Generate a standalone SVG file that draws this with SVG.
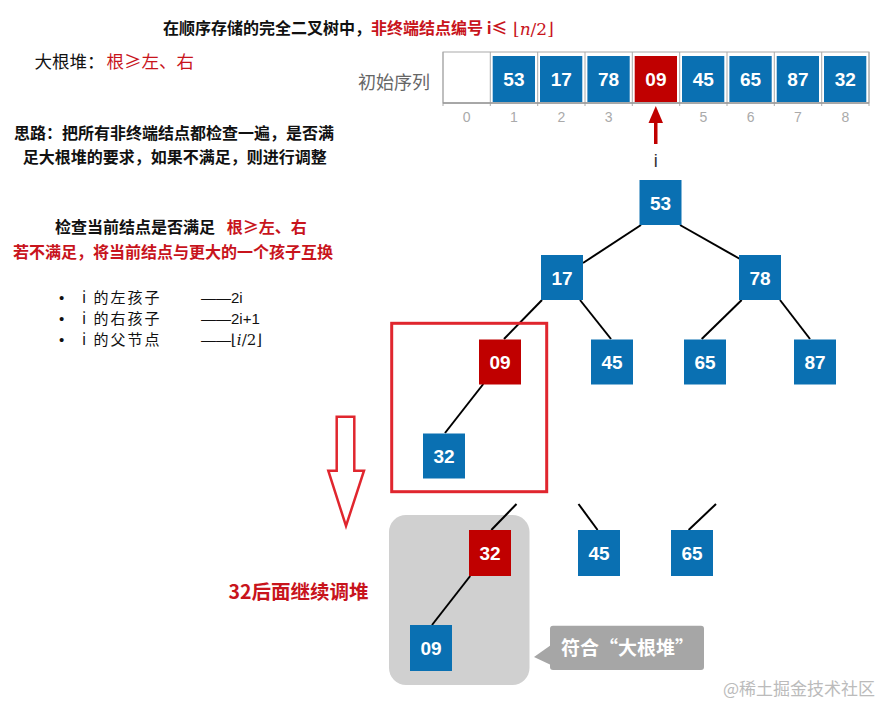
<svg xmlns="http://www.w3.org/2000/svg" width="889" height="705" viewBox="0 0 889 705">
<style>
.cjk{font-family:"Noto Sans CJK SC","Noto Sans",sans-serif}
.b{font-weight:bold}
.red{fill:#c8141c}
.blk{fill:#111}
.nb{fill:#0a70b2}
.nr{fill:#c00000}
.nt{font-family:"Liberation Sans",Arial,sans-serif;font-weight:bold;font-size:19px;fill:#fff;text-anchor:middle}
.idx{font-family:"Liberation Sans",Arial,sans-serif;font-size:14px;fill:#aaa;text-anchor:middle}
.edge{stroke:#000;stroke-width:2;fill:none}
.cell{fill:#fff;stroke:#aaa;stroke-width:1}
.bul{font-family:"Liberation Sans",Arial,sans-serif;font-size:15px;fill:#111}
.bt{font-family:"Noto Sans CJK SC",sans-serif;font-size:15px;letter-spacing:2px;fill:#111}
.bd{font-family:"Liberation Sans",Arial,sans-serif;font-size:15px;fill:#111}
</style>
<rect width="889" height="705" fill="#fff"/>

<!-- Title -->
<text x="163" y="34" class="cjk b" font-size="16"><tspan class="blk">在顺序存储的完全二叉树中，</tspan><tspan class="red">非终端结点编号 i≤</tspan></text>
<text x="513" y="35" font-family="DejaVu Serif,serif" font-size="17" class="red">⌊<tspan font-style="italic">n</tspan>/2⌋</text>

<text x="34.5" y="68" class="cjk" font-size="17.5" fill="#111">大根堆：<tspan class="red" x="106.5">根≥左、右</tspan></text>

<!-- Left explanation -->
<text x="14" y="139" class="cjk b blk" font-size="16">思路：把所有非终端结点都检查一遍，是否满</text>
<text x="22.7" y="163" class="cjk b blk" font-size="16">足大根堆的要求，如果不满足，则进行调整</text>
<text x="55" y="233" class="cjk b" font-size="16"><tspan class="blk">检查当前结点是否满足 </tspan><tspan class="red" x="226.7">根≥左、右</tspan></text>
<text x="13" y="258" class="cjk b red" font-size="16">若不满足，将当前结点与更大的一个孩子互换</text>

<g id="bullets">
<text x="59" y="303" class="bul">•</text><text x="82" y="303" class="bt">i 的左孩子</text><text x="201" y="303" class="bd">——2i</text>
<text x="59" y="324" class="bul">•</text><text x="82" y="324" class="bt">i 的右孩子</text><text x="201" y="324" class="bd">——2i+1</text>
<text x="59" y="345" class="bul">•</text><text x="82" y="345" class="bt">i 的父节点</text><text x="201" y="345" class="bd">——<tspan font-family="DejaVu Serif,serif">⌊<tspan font-style="italic">i</tspan>/2⌋</tspan></text>
</g>

<!-- Array -->
<g id="array">
<text x="358" y="89" class="cjk" font-size="18" fill="#666">初始序列</text>
<rect x="443" y="52" width="426" height="51" class="cell"/>
<g stroke="#aaa" stroke-width="1">
<line x1="490.3" y1="52" x2="490.3" y2="106"/>
<line x1="537.7" y1="52" x2="537.7" y2="106"/>
<line x1="585" y1="52" x2="585" y2="106"/>
<line x1="632.3" y1="52" x2="632.3" y2="106"/>
<line x1="679.7" y1="52" x2="679.7" y2="106"/>
<line x1="727" y1="52" x2="727" y2="106"/>
<line x1="774.3" y1="52" x2="774.3" y2="106"/>
<line x1="821.7" y1="52" x2="821.7" y2="106"/>
<line x1="443" y1="52" x2="443" y2="106"/>
<line x1="869" y1="52" x2="869" y2="106"/>
</g>
<line x1="443" y1="103" x2="869" y2="103" stroke="#999" stroke-width="1.5"/>
<g>
<rect x="492.7" y="56" width="42.3" height="46" class="nb"/><text x="513.9" y="86" class="nt">53</text>
<rect x="540" y="56" width="42.3" height="46" class="nb"/><text x="561.2" y="86" class="nt">17</text>
<rect x="587.4" y="56" width="42.3" height="46" class="nb"/><text x="608.5" y="86" class="nt">78</text>
<rect x="634.7" y="56" width="42.3" height="46" class="nr"/><text x="655.9" y="86" class="nt">09</text>
<rect x="682" y="56" width="42.3" height="46" class="nb"/><text x="703.2" y="86" class="nt">45</text>
<rect x="729.4" y="56" width="42.3" height="46" class="nb"/><text x="750.5" y="86" class="nt">65</text>
<rect x="776.7" y="56" width="42.3" height="46" class="nb"/><text x="797.9" y="86" class="nt">87</text>
<rect x="824" y="56" width="42.3" height="46" class="nb"/><text x="845.2" y="86" class="nt">32</text>
</g>
<text x="466.7" y="122" class="idx">0</text>
<text x="514" y="122" class="idx">1</text>
<text x="561.3" y="122" class="idx">2</text>
<text x="608.7" y="122" class="idx">3</text>
<text x="703.3" y="122" class="idx">5</text>
<text x="750.7" y="122" class="idx">6</text>
<text x="798" y="122" class="idx">7</text>
<text x="845.3" y="122" class="idx">8</text>
</g>

<!-- pointer i -->
<g id="pointer">
<rect x="654" y="120" width="3.5" height="24" fill="#c00000"/>
<polygon points="655.8,106 648.5,123 663,123" fill="#c00000"/>
<text x="655.8" y="167" font-family="Liberation Sans,Arial,sans-serif" font-size="18" fill="#333" text-anchor="middle">i</text>
</g>

<!-- gray group background -->
<rect x="389" y="515" width="140.5" height="170" rx="17" fill="#d0d0d0"/>

<!-- connectors -->
<g id="connectors">
<line x1="641" y1="225" x2="583" y2="263" class="edge"/>
<line x1="680" y1="225" x2="740" y2="259" class="edge"/>
<line x1="542" y1="300" x2="504" y2="339" class="edge"/>
<line x1="580" y1="300" x2="611" y2="339" class="edge"/>
<line x1="741.7" y1="300" x2="701.7" y2="339" class="edge"/>
<line x1="780" y1="300" x2="810" y2="339" class="edge"/>
<line x1="483.3" y1="384" x2="445" y2="433" class="edge"/>
<line x1="516.5" y1="504" x2="491.3" y2="530" class="edge"/>
<line x1="578.5" y1="504" x2="597.6" y2="530" class="edge"/>
<line x1="716" y1="504" x2="688.6" y2="530" class="edge"/>
<line x1="470.2" y1="576" x2="432" y2="625" class="edge"/>
</g>

<!-- red highlight box -->
<rect x="391.7" y="323.3" width="155" height="168.4" fill="none" stroke="#e0262e" stroke-width="3"/>

<!-- tree nodes -->
<g id="n53"><rect x="639.5" y="180" width="42" height="45" class="nb"/><text x="660.5" y="209.5" class="nt">53</text></g>
<g id="n17"><rect x="541" y="255" width="42" height="45" class="nb"/><text x="562" y="284.5" class="nt">17</text></g>
<g id="n78"><rect x="739" y="255" width="42" height="45" class="nb"/><text x="760" y="284.5" class="nt">78</text></g>
<g id="n09"><rect x="479" y="339.5" width="42" height="45" class="nr"/><text x="500" y="369" class="nt">09</text></g>
<g id="n45"><rect x="591" y="339.5" width="42" height="45" class="nb"/><text x="612" y="369" class="nt">45</text></g>
<g id="n65"><rect x="684" y="339.5" width="42" height="45" class="nb"/><text x="705" y="369" class="nt">65</text></g>
<g id="n87"><rect x="794" y="339.5" width="42" height="45" class="nb"/><text x="815" y="369" class="nt">87</text></g>
<g id="n32"><rect x="423" y="433.5" width="42" height="45" class="nb"/><text x="444" y="463" class="nt">32</text></g>

<!-- down arrow -->
<polygon points="336.7,416.7 354.3,416.7 354.3,470.7 364,470.7 346,526 328.3,470.7 336.7,470.7" fill="#fff" stroke="#e0262e" stroke-width="2.5" stroke-linejoin="miter"/>

<text x="228.6" y="598.5" class="cjk b red" font-size="19.5">32后面继续调堆</text>

<g id="n32b"><rect x="469" y="530" width="42" height="46" class="nr"/><text x="490" y="560" class="nt">32</text></g>
<g id="n45b"><rect x="578" y="530" width="42" height="46" class="nb"/><text x="599" y="560" class="nt">45</text></g>
<g id="n65b"><rect x="671" y="530" width="42" height="46" class="nb"/><text x="692" y="560" class="nt">65</text></g>
<g id="n09b"><rect x="410" y="625" width="42" height="46" class="nb"/><text x="431" y="655" class="nt">09</text></g>

<!-- callout -->
<g id="callout">
<rect x="550" y="625.7" width="154" height="44.3" rx="3" fill="#a6a6a6"/>
<polygon points="551,645 534,657 551,665" fill="#a6a6a6"/>
<text x="627.5" y="655" class="cjk b" font-size="19" fill="#fff" text-anchor="middle">符合“大根堆”</text>
</g>

<text x="723" y="695" class="cjk" font-size="17" fill="#bbb">@稀土掘金技术社区</text>
</svg>
